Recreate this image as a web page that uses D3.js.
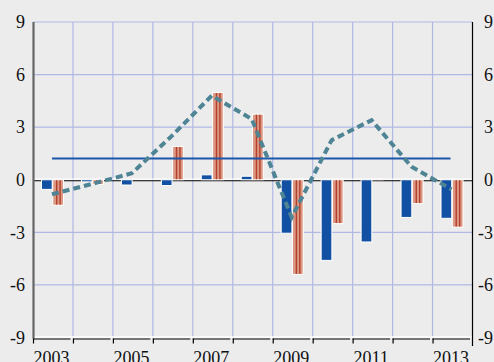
<!DOCTYPE html>
<html>
<head>
<meta charset="utf-8">
<script src="https://cdn.jsdelivr.net/npm/d3@7"></script>
<style>
  html, body { margin: 0; padding: 0; background: #ececec; }
  svg { display: block; }
  text { font-family: "Liberation Serif", "DejaVu Serif", serif; fill: #111; }
</style>
</head>
<body>
<script>
const years = [2003, 2004, 2005, 2006, 2007, 2008, 2009, 2010, 2011, 2012, 2013];
const blueValues   = [-0.55, -0.12, -0.3, -0.33, 0.28, 0.2, -3.05, -4.6, -3.55, -2.15, -2.2];
const salmonValues = [-1.45, -0.26, 0.0, 1.9, 4.98, 3.74, -5.4, -2.5, 0.06, -1.36, -2.7];
const lineValues   = [-0.83, -0.24, 0.37, 2.5, 4.8, 3.46, -2.14, 2.26, 3.4, 0.74, -0.55];
const averageValue = 1.21;
const yTicks = [-9, -6, -3, 0, 3, 6, 9];
const xTickLabels = [2003, 2005, 2007, 2009, 2011, 2013];

const W = 494, H = 362;
const svg = d3.select("body").append("svg").attr("width", W).attr("height", H);
svg.append("rect").attr("width", W).attr("height", H).attr("fill", "#ececec");

const x = d3.scaleBand().domain(years).range([33, 472.5]).padding(0);
const y = d3.scaleLinear().domain([-9, 9]).range([337.5, 22]);
const cx = d => x(d) + x.bandwidth() / 2;
const sub = d3.scaleBand().domain(["blue", "salmon"]).range([-11.5, 10.5]).paddingInner(0.05);

const grid = svg.append("g");
// vertical gridlines
grid.selectAll("line.v").data(years.slice(1)).join("line")
  .attr("x1", d => x(d)).attr("x2", d => x(d))
  .attr("y1", y(9)).attr("y2", y(-9))
  .attr("stroke", "#b0b9e3").attr("stroke-width", 1.2);
// horizontal gridlines
grid.selectAll("line.h").data(yTicks.filter(t => t !== 0 && t !== -9)).join("line")
  .attr("x1", 33).attr("x2", 472.5)
  .attr("y1", d => y(d)).attr("y2", d => y(d))
  .attr("stroke", "#b0b9e3").attr("stroke-width", 1.2);
// bottom white line
grid.append("line").attr("x1", 33).attr("x2", 472.5)
  .attr("y1", y(-9) - 0.5).attr("y2", y(-9) - 0.5)
  .attr("stroke", "#ffffff").attr("stroke-width", 1.5);

// zero line
svg.append("line").attr("x1", 33).attr("x2", 472.5)
  .attr("y1", y(0) - 0.6).attr("y2", y(0) - 0.6)
  .attr("stroke", "#ffffff").attr("stroke-width", 1.2);
svg.append("line").attr("x1", 33).attr("x2", 472.5)
  .attr("y1", y(0) + 1).attr("y2", y(0) + 1)
  .attr("stroke", "#000").attr("stroke-width", 1.2);

// blue bars
svg.append("g").selectAll("rect").data(years).join("rect")
  .attr("x", (d) => cx(d) + sub("blue"))
  .attr("width", sub.bandwidth())
  .attr("y", (d, i) => y(Math.max(0, blueValues[i])))
  .attr("height", (d, i) => Math.abs(y(blueValues[i]) - y(0)))
  .attr("fill", "#1150a2").attr("stroke", "#ffffff").attr("stroke-width", 1);

// salmon bars with stripes
const sg = svg.append("g").selectAll("g").data(years).join("g");
sg.append("rect")
  .attr("x", d => cx(d) + sub("salmon"))
  .attr("width", sub.bandwidth())
  .attr("y", (d, i) => y(Math.max(0, salmonValues[i])))
  .attr("height", (d, i) => Math.abs(y(salmonValues[i]) - y(0)))
  .attr("fill", "#dc9882").attr("stroke", "#ffffff").attr("stroke-width", 1);
[0.3, 0.62].forEach(f => {
  sg.append("rect")
    .attr("x", d => cx(d) + sub("salmon") + sub.bandwidth() * f)
    .attr("width", 1.4)
    .attr("y", (d, i) => y(Math.max(0, salmonValues[i])) + 0.5)
    .attr("height", (d, i) => Math.max(0, Math.abs(y(salmonValues[i]) - y(0)) - 1))
    .attr("fill", "#b2402f");
});

// average line
svg.append("line")
  .attr("x1", cx(years[0]) - 1).attr("x2", cx(years[years.length - 1]) - 2)
  .attr("y1", y(averageValue)).attr("y2", y(averageValue))
  .attr("stroke", "#1a56aa").attr("stroke-width", 2);

// dashed line
const line = d3.line().x((d, i) => cx(years[i]) - 1).y(d => y(d));
svg.append("path").datum(lineValues).attr("d", line)
  .attr("fill", "none").attr("stroke", "#4e8494").attr("stroke-width", 4)
  .attr("stroke-dasharray", "7,4");

// left axis
svg.append("line").attr("x1", 33.5).attr("x2", 33.5).attr("y1", y(9)).attr("y2", y(-9) + 1)
  .attr("stroke", "#666").attr("stroke-width", 2.2);
// right axis
svg.append("line").attr("x1", 472.5).attr("x2", 472.5).attr("y1", y(9)).attr("y2", 346)
  .attr("stroke", "#000").attr("stroke-width", 1.2);

// bottom axis segments with ticks
const bx = svg.append("g");
bx.selectAll("line.seg").data(years).join("line")
  .attr("x1", d => x(d)).attr("x2", d => x(d) + x.bandwidth() - 2.5)
  .attr("y1", y(-9) + 1.5).attr("y2", y(-9) + 1.5)
  .attr("stroke", "#000").attr("stroke-width", 1.2);
bx.selectAll("line.tick").data(years).join("line")
  .attr("x1", d => x(d) + 0.5).attr("x2", d => x(d) + 0.5)
  .attr("y1", y(-9) + 1).attr("y2", y(-9) + 6)
  .attr("stroke", "#000").attr("stroke-width", 1.2);

// left labels
svg.append("g").selectAll("text").data(yTicks).join("text")
  .attr("x", 25).attr("y", d => y(d)).attr("dy", "0.35em")
  .attr("text-anchor", "end").attr("font-size", 18)
  .text(d => d);
// right labels
svg.append("g").selectAll("text").data(yTicks).join("text")
  .attr("x", 493).attr("y", d => y(d)).attr("dy", "0.35em")
  .attr("text-anchor", "end").attr("font-size", 18)
  .text(d => d);
// bottom labels
svg.append("g").selectAll("text").data(xTickLabels).join("text")
  .attr("x", d => cx(d) - 1.5).attr("y", 364)
  .attr("text-anchor", "middle").attr("font-size", 18)
  .text(d => d);
</script>
</body>
</html>
